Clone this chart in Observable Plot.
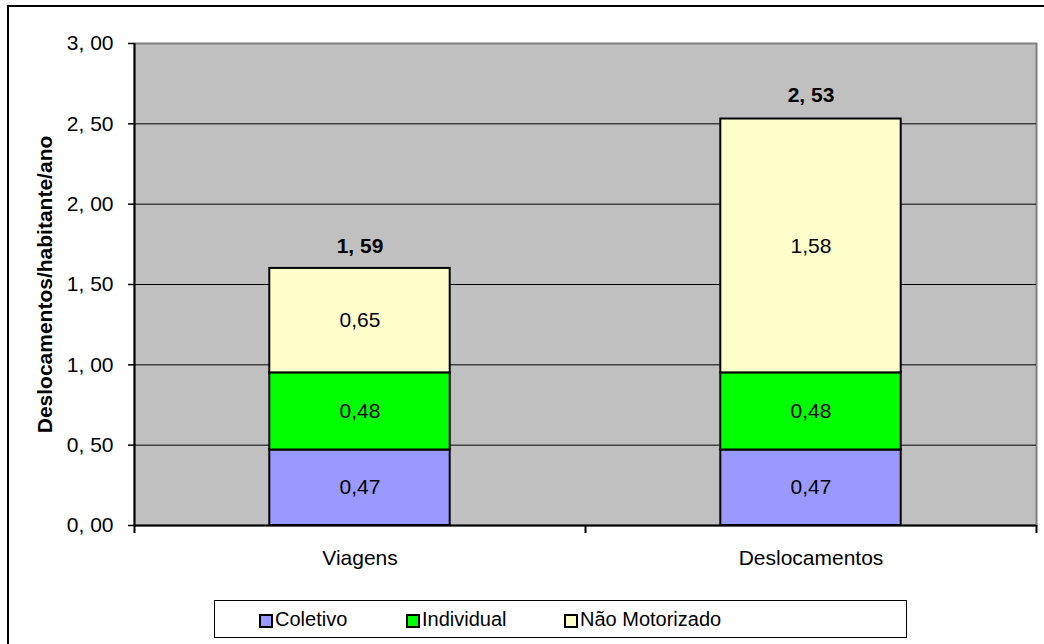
<!DOCTYPE html>
<html><head><meta charset="utf-8">
<script src="https://cdn.jsdelivr.net/npm/d3@7"></script>
<script src="https://cdn.jsdelivr.net/npm/@observablehq/plot@0.6"></script>
<style>
html,body{margin:0;padding:0;background:#fff;overflow:hidden;width:1044px;height:644px;}
#frame{position:absolute;left:7px;top:5px;width:1100px;height:700px;border:2px solid #000;box-sizing:border-box;}
#chart{position:absolute;left:0;top:0;}
#legend{position:absolute;left:214px;top:600px;width:693px;height:38px;border:1px solid #000;box-sizing:border-box;background:#fff;font-family:"Liberation Sans",Arial,sans-serif;font-size:20px;color:#000;}
.item{position:absolute;top:0;height:36px;display:flex;align-items:center;}
.sw{width:14px;height:14px;border:2px solid #000;box-sizing:border-box;margin-right:2px;margin-top:3px;}
</style></head>
<body>
<div id="frame"></div>
<div id="chart"></div>
<div id="legend"></div>
<script>
const categories = ["Viagens", "Deslocamentos"];
const series = ["Coletivo", "Individual", "Não Motorizado"];
const coletivo = [0.47, 0.47];
const individual = [0.48, 0.48];
const naoMotorizado = [0.65, 1.58];
const totals = [1.59, 2.53];
const yTicks = [0, 0.5, 1, 1.5, 2, 2.5, 3];
const colors = ["#9999FF", "#00FF00", "#FFFFCC"];
const legendOffsets = [44, 191, 349];

const seriesValues = [coletivo, individual, naoMotorizado];
const rows = [];
categories.forEach((c, i) => {
  let acc = 0;
  series.forEach((s, k) => {
    const v = seriesValues[k][i];
    rows.push({cat: c, i, series: s, value: v, y1: acc, y2: acc + v});
    acc += v;
  });
});
const fmtIn = v => d3.format(".2f")(v).replace(".", ",");
const fmtSp = v => d3.format(".2f")(v).replace(".", ", ");

const chart = Plot.plot({
  width: 1044, height: 590,
  marginLeft: 134, marginRight: 8, marginTop: 43, marginBottom: 65,
  style: {fontFamily: "'Liberation Sans', Arial, sans-serif", fontSize: "21px", color: "#000", background: "transparent"},
  x: {domain: [0, categories.length], axis: null},
  y: {domain: [0, 3], axis: null},
  color: {domain: series, range: colors},
  marks: [
    Plot.frame({fill: "#C0C0C0", stroke: "#808080", strokeWidth: 2}),
    Plot.ruleY(yTicks.filter(v => v > 0 && v < 3), {stroke: "#000", strokeWidth: 1}),
    Plot.rect(rows, {x1: d => d.i + 0.3, x2: d => d.i + 0.7, y1: "y1", y2: "y2", fill: "series", stroke: "#000", strokeWidth: 2}),
    Plot.text(rows, {x: d => d.i + 0.5, y: d => (d.y1 + d.y2) / 2, text: d => fmtIn(d.value), fontSize: 21, fill: "#000"}),
    Plot.text(totals, {x: (d, i) => i + 0.5, y: d => d, dy: -24, text: d => fmtSp(d), fontSize: 21, fontWeight: "bold", fill: "#000"}),
    Plot.axisY(yTicks, {tickSize: 6, tickPadding: 15, tickFormat: fmtSp, fontSize: 21, strokeWidth: 1.5}),
    Plot.axisX(d3.range(categories.length + 1), {tickSize: 8, tickFormat: () => "", strokeWidth: 2}),
    Plot.axisX(categories.map((d, i) => i + 0.5), {tickSize: 0, tickPadding: 25, tickFormat: v => categories[Math.floor(v)], fontSize: 21}),
    Plot.ruleX([0], {stroke: "#000", strokeWidth: 2}),
    Plot.ruleY([0], {stroke: "#000", strokeWidth: 2}),
    Plot.text(["Deslocamentos/habitante/ano"], {frameAnchor: "left", textAnchor: "middle", dx: -89, rotate: -90, text: d => d, fontWeight: "bold", fontSize: 21, fill: "#000"})
  ]
});
document.getElementById("chart").appendChild(chart);

const legend = document.getElementById("legend");
series.forEach((s, k) => {
  const it = document.createElement("div");
  it.className = "item";
  it.style.left = legendOffsets[k] + "px";
  const sw = document.createElement("span");
  sw.className = "sw";
  sw.style.background = colors[k];
  const t = document.createElement("span");
  t.textContent = s;
  it.appendChild(sw); it.appendChild(t);
  legend.appendChild(it);
});
</script>
</body></html>
